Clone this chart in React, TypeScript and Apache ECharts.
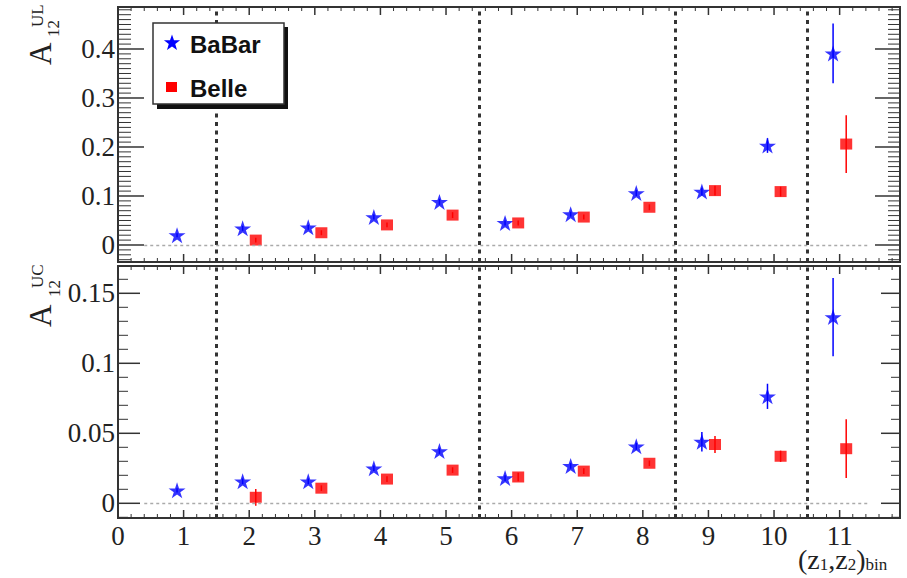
import React, { useEffect, useRef } from 'react';
import * as echarts from 'echarts';

// ---------- data ----------
const babarBins = [1, 2, 3, 4, 5, 6, 7, 8, 9, 10, 11];
const belleBins = [2, 3, 4, 5, 6, 7, 8, 9, 10, 11];

const babarUL = [0.020, 0.034, 0.036, 0.057, 0.088, 0.045, 0.063, 0.106, 0.109, 0.203, 0.391];
const babarULErr = [0.004, 0.005, 0.005, 0.005, 0.006, 0.005, 0.005, 0.006, 0.008, 0.015, 0.061];
const belleUL = [0.010, 0.025, 0.041, 0.061, 0.045, 0.057, 0.077, 0.111, 0.109, 0.206];
const belleULErr = [0.005, 0.005, 0.005, 0.006, 0.005, 0.005, 0.006, 0.010, 0.010, 0.059];

const babarUC = [0.0093, 0.0157, 0.0157, 0.025, 0.0373, 0.018, 0.0267, 0.0407, 0.044, 0.0764, 0.133];
const babarUCErr = [0.0015, 0.002, 0.002, 0.002, 0.002, 0.002, 0.002, 0.0025, 0.007, 0.009, 0.028];
const belleUC = [0.0043, 0.0108, 0.0173, 0.0237, 0.0188, 0.023, 0.0286, 0.042, 0.0336, 0.039];
const belleUCErr = [0.006, 0.002, 0.002, 0.002, 0.003, 0.002, 0.002, 0.006, 0.004, 0.021];

const xTickLabels = ['0', '1', '2', '3', '4', '5', '6', '7', '8', '9', '10', '11'];
const ulTickValues = [0, 0.1, 0.2, 0.3, 0.4];
const ulTickLabels = ['0', '0.1', '0.2', '0.3', '0.4'];
const ucTickValues = [0, 0.05, 0.1, 0.15];
const ucTickLabels = ['0', '0.05', '0.1', '0.15'];
const dividers = [1.5, 5.5, 8.5, 10.5];
const zeroLineRange = [0.4, 11.45];

const BABAR_SHIFT = -0.1;
const BELLE_SHIFT = 0.1;

// ---------- axis ranges ----------
const X_MIN = 0;
const X_MAX = 11.92;
const UL_MIN = -0.0347;
const UL_MAX = 0.4857;
const UC_MIN = -0.0105;
const UC_MAX = 0.1695;

// ---------- styles ----------
const SERIF = '"Liberation Serif", "Times New Roman", serif';
const SANS = '"Liberation Sans", Arial, sans-serif';
const BLUE = '#0000ff';
const RED = '#ff0000';
const FRAME = '#333333';
const STAR =
  'path://M0,-1L0.2245,-0.309L0.9511,-0.309L0.3633,0.118L0.5878,0.809L0,0.382L-0.5878,0.809L-0.3633,0.118L-0.9511,-0.309L-0.2245,-0.309Z';

function starPts(cx: number, cy: number, R: number, r: number) {
  const pts: number[][] = [];
  for (let k = 0; k < 10; k++) {
    const a = -Math.PI / 2 + (k * Math.PI) / 5;
    const rad = k % 2 === 0 ? R : r;
    pts.push([cx + rad * Math.cos(a), cy + rad * Math.sin(a)]);
  }
  return pts;
}

function labelFor(values: number[], labels: string[]) {
  return (v: number) => {
    for (let i = 0; i < values.length; i++) {
      if (Math.abs(values[i] - v) < 1e-7) return labels[i];
    }
    return '';
  };
}

function xAxis(gridIndex: number, showLabels: boolean) {
  return {
    type: 'value',
    gridIndex,
    position: 'bottom',
    min: X_MIN,
    max: X_MAX,
    interval: 1,
    axisLine: { show: false },
    axisTick: { show: false },
    minorTick: { show: false },
    splitLine: { show: false },
    minorSplitLine: { show: false },
    axisLabel: showLabels
      ? {
          show: true,
          fontFamily: SERIF,
          fontSize: 27,
          lineHeight: 14,
          color: '#222',
          margin: 11,
          formatter: (v: number) => {
            const i = Math.round(v);
            return Math.abs(v - i) < 1e-7 && i < xTickLabels.length ? xTickLabels[i] : '';
          },
        }
      : { show: false },
  };
}

function yAxis(gridIndex: number, min: number, max: number, step: number, values: number[], labels: string[]) {
  return {
    type: 'value',
    gridIndex,
    position: 'left',
    min,
    max,
    splitNumber: Math.round((max - min) / step),
    minInterval: step,
    maxInterval: step,
    axisLine: { show: false },
    axisTick: { show: false },
    minorTick: { show: false },
    splitLine: { show: false },
    minorSplitLine: { show: false },
    axisLabel: {
      show: true,
      fontFamily: SERIF,
      fontSize: 27,
      color: '#222',
      margin: 3,
      formatter: labelFor(values, labels),
    },
  };
}

function errorSeries(
  name: string,
  bins: number[],
  shift: number,
  vals: number[],
  errs: number[],
  color: string,
  xi: number,
  yi: number
) {
  return {
    type: 'custom',
    name: name + ' err',
    xAxisIndex: xi,
    yAxisIndex: yi,
    z: 2,
    silent: true,
    encode: { x: 0, y: 1 },
    data: bins.map((b, i) => [b + shift, vals[i], errs[i]]),
    renderItem: (_p: any, api: any) => {
      const x = api.value(0);
      const y = api.value(1);
      const e = api.value(2);
      const p1 = api.coord([x, y + e]);
      const p2 = api.coord([x, y - e]);
      return {
        type: 'line',
        shape: { x1: p1[0], y1: p1[1], x2: p2[0], y2: p2[1] },
        style: { stroke: color, lineWidth: 1.5 },
      };
    },
  };
}

function markerSeries(
  name: string,
  bins: number[],
  shift: number,
  vals: number[],
  isStar: boolean,
  xi: number,
  yi: number,
  withLines: boolean
) {
  const s: any = {
    type: 'scatter',
    name,
    xAxisIndex: xi,
    yAxisIndex: yi,
    z: 3,
    symbol: isStar ? STAR : 'rect',
    symbolSize: isStar ? [17, 16] : [12, 11],
    itemStyle: { color: isStar ? BLUE : RED },
    data: bins.map((b, i) => [b + shift, vals[i]]),
  };
  if (withLines) {
    s.markLine = {
      silent: true,
      symbol: ['none', 'none'],
      label: { show: false },
      animation: false,
      lineStyle: { color: '#333', width: 3, type: [4, 4.5] },
      emphasis: { disabled: true },
      data: [
        ...dividers.map((d) => ({ xAxis: d })),
        [
          { coord: [zeroLineRange[0], 0], lineStyle: { color: '#aaa', width: 1.3, type: [3, 3] } },
          { coord: [zeroLineRange[1], 0] },
        ],
      ],
    };
  }
  return s;
}

function yTitle(x: number, y: number, sup: string, supX: number, subX: number, subY: number) {
  return {
    type: 'group',
    x,
    y,
    rotation: Math.PI / 2,
    silent: true,
    children: [
      {
        type: 'text',
        x: 0,
        y: -10,
        style: { text: 'A', fontFamily: SERIF, fontSize: 31, fill: '#222', textAlign: 'left', textVerticalAlign: 'middle' },
      },
      {
        type: 'text',
        x: supX,
        y: -13,
        style: { text: sup, fontFamily: SERIF, fontSize: 17, fill: '#222', textAlign: 'left', textVerticalAlign: 'middle' },
      },
      {
        type: 'text',
        x: subX,
        y: subY,
        style: { text: '12', fontFamily: SERIF, fontSize: 17, fill: '#222', textAlign: 'left', textVerticalAlign: 'middle' },
      },
    ],
  };
}

// ROOT-style frame ticks on all four sides, positioned through the axes' scales
function frameTickElements(
  chart: any,
  xi: number,
  yi: number,
  yMin: number,
  yMax: number,
  yMinorStep: number,
  yMinorPerMajor: number,
  yLenL: number[],
  yLenR: number[]
) {
  const els: any[] = [];
  const xPx = (v: number) => chart.convertToPixel({ xAxisIndex: xi }, v);
  const yPx = (v: number) => chart.convertToPixel({ yAxisIndex: yi }, v);
  const left = xPx(X_MIN);
  const right = xPx(X_MAX);
  const top = yPx(yMax);
  const bottom = yPx(yMin);
  if (![left, right, top, bottom].every((n) => typeof n === 'number' && isFinite(n))) return els;
  const ln = (x1: number, y1: number, x2: number, y2: number, w: number) =>
    els.push({ type: 'line', silent: true, z: 5, shape: { x1, y1, x2, y2 }, style: { stroke: FRAME, lineWidth: w } });
  for (let k = 0; k * 0.2 <= X_MAX + 1e-9; k++) {
    const major = k % 5 === 0;
    const px = xPx(k * 0.2);
    const len = major ? 8 : 4;
    const w = major ? 1.5 : 1;
    ln(px, bottom, px, bottom - len, w);
    ln(px, top, px, top + len, w);
  }
  for (let k = Math.ceil(yMin / yMinorStep - 1e-9); k * yMinorStep <= yMax + 1e-9; k++) {
    const major = k % yMinorPerMajor === 0;
    const py = yPx(k * yMinorStep);
    const w = major ? 1.5 : 1;
    ln(left, py, left + (major ? yLenL[0] : yLenL[1]), py, w);
    ln(right, py, right - (major ? yLenR[0] : yLenR[1]), py, w);
  }
  return els;
}

export default function App() {
  const ref = useRef<HTMLDivElement>(null);

  useEffect(() => {
    if (!ref.current) return;
    const chart = echarts.init(ref.current, undefined, { renderer: 'svg' });

    const legendStar = starPts(172, 43, 8.5, 3.4);
    const subStyle = { fontFamily: SERIF, fontSize: 17, lineHeight: 10, verticalAlign: 'bottom', fill: '#222' };

    const baseGraphic: any[] = [
      // legend
      { type: 'rect', z: 10, silent: true, shape: { x: 157, y: 27, width: 131, height: 82 }, style: { fill: '#111' } },
      { type: 'rect', z: 11, silent: true, shape: { x: 153, y: 23, width: 131, height: 81 }, style: { fill: '#fff', stroke: '#333', lineWidth: 1.5 } },
      { type: 'polygon', z: 12, silent: true, shape: { points: legendStar }, style: { fill: BLUE } },
      { type: 'rect', z: 12, silent: true, shape: { x: 166, y: 82, width: 11, height: 10 }, style: { fill: RED } },
      {
        type: 'text', z: 12, silent: true, x: 190, y: 44,
        style: { text: 'BaBar', fontFamily: SANS, fontWeight: 'bold', fontSize: 24, fill: '#111', textAlign: 'left', textVerticalAlign: 'middle' },
      },
      {
        type: 'text', z: 12, silent: true, x: 190, y: 88,
        style: { text: 'Belle', fontFamily: SANS, fontWeight: 'bold', fontSize: 24, fill: '#111', textAlign: 'left', textVerticalAlign: 'middle' },
      },
      // y titles
      yTitle(50, 65, 'UL', 38, 28, 3),
      yTitle(50, 327, 'UC', 39, 30, 4),
      // x title
      {
        type: 'text',
        silent: true,
        x: 798,
        y: 559,
        style: {
          text: '(z{s|1},z{s|2}){s|bin}',
          fontFamily: SERIF,
          fontSize: 28,
          lineHeight: 28,
          fill: '#222',
          textAlign: 'left',
          textVerticalAlign: 'middle',
          rich: { s: subStyle },
        },
      },
    ];

    const option: any = {
      animation: false,
      backgroundColor: '#ffffff',
      grid: [
        { left: 118, top: 7, width: 782, height: 255, show: true, borderColor: FRAME, borderWidth: 2 },
        { left: 118, top: 266, width: 782, height: 252, show: true, borderColor: FRAME, borderWidth: 2 },
      ],
      xAxis: [xAxis(0, false), xAxis(1, true)],
      yAxis: [
        yAxis(0, UL_MIN, UL_MAX, 0.1, ulTickValues, ulTickLabels),
        yAxis(1, UC_MIN, UC_MAX, 0.05, ucTickValues, ucTickLabels),
      ],
      series: [
        markerSeries('BaBar', babarBins, BABAR_SHIFT, babarUL, true, 0, 0, true),
        markerSeries('Belle', belleBins, BELLE_SHIFT, belleUL, false, 0, 0, false),
        errorSeries('BaBar UL', babarBins, BABAR_SHIFT, babarUL, babarULErr, BLUE, 0, 0),
        errorSeries('Belle UL', belleBins, BELLE_SHIFT, belleUL, belleULErr, RED, 0, 0),
        markerSeries('BaBar ', babarBins, BABAR_SHIFT, babarUC, true, 1, 1, true),
        markerSeries('Belle ', belleBins, BELLE_SHIFT, belleUC, false, 1, 1, false),
        errorSeries('BaBar UC', babarBins, BABAR_SHIFT, babarUC, babarUCErr, BLUE, 1, 1),
        errorSeries('Belle UC', belleBins, BELLE_SHIFT, belleUC, belleUCErr, RED, 1, 1),
      ],
      graphic: baseGraphic,
    };

    chart.setOption(option);

    let ticks: any[] = [];
    try {
      ticks = [
        ...frameTickElements(chart, 0, 0, UL_MIN, UL_MAX, 0.01, 10, [26, 13], [25, 12]),
        ...frameTickElements(chart, 1, 1, UC_MIN, UC_MAX, 0.01, 5, [22, 10], [19, 9]),
      ];
    } catch (e) {
      ticks = [];
    }
    if (ticks.length) {
      chart.setOption({ graphic: [...baseGraphic, ...ticks] });
    }

    return () => chart.dispose();
  }, []);

  return (
    <div
      ref={ref}
      style={{ position: 'fixed', left: 0, top: 0, width: 907, height: 578, background: '#fff' }}
    />
  );
}
